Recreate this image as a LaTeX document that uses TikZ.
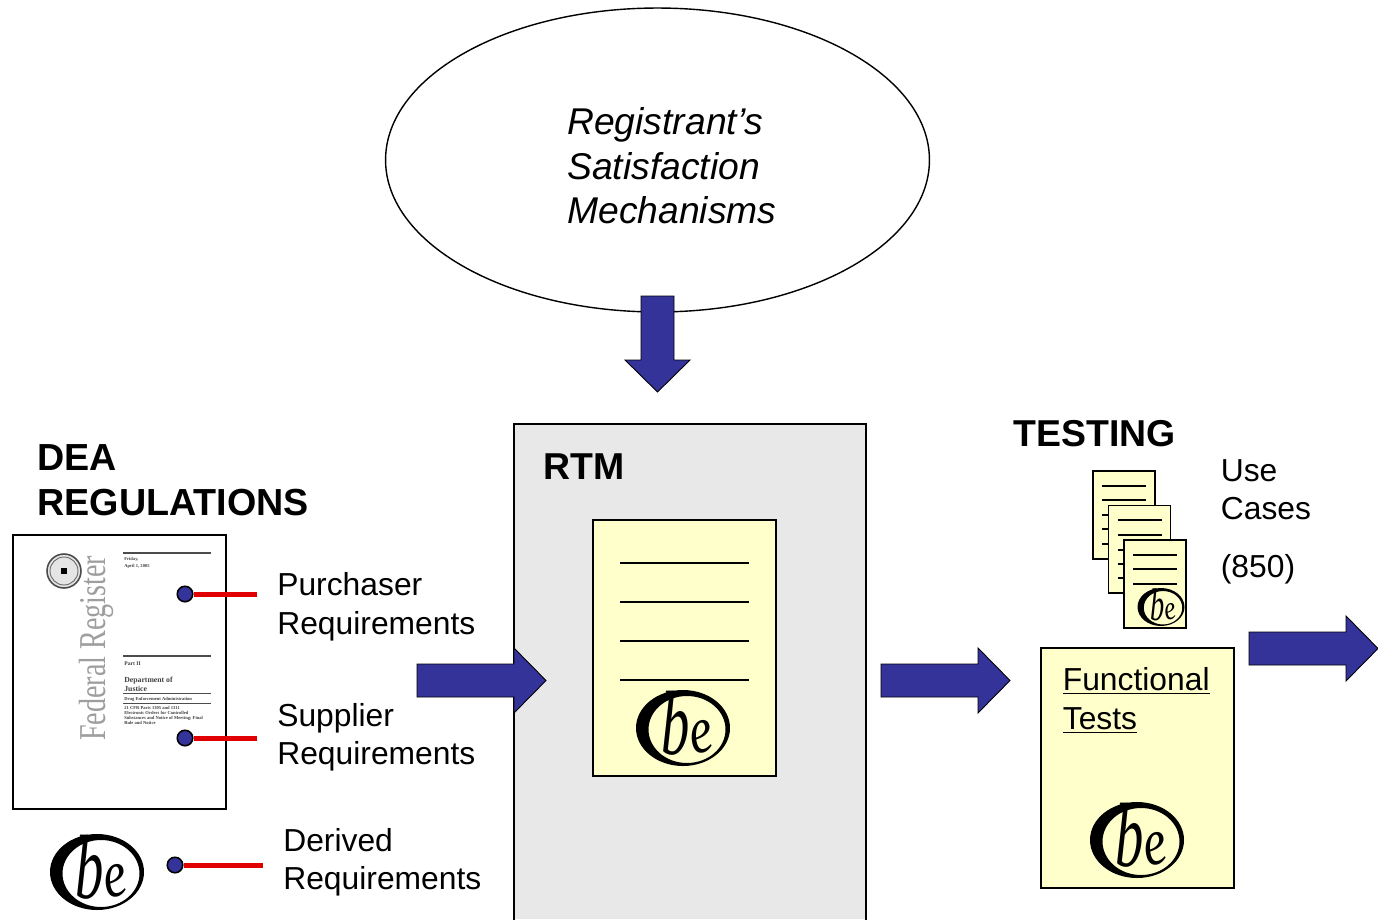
\documentclass[tikz,border=0pt]{standalone}
\usepackage{fontspec}
\usepackage{xcolor}
\usetikzlibrary{arrows.meta, positioning, shapes.geometric}
\setmainfont{Liberation Sans}
\newfontfamily\regfont{Liberation Serif}
\definecolor{arrowblue}{HTML}{333399}
\definecolor{noteyellow}{HTML}{FFFFCC}
\definecolor{boxgray}{HTML}{E8E8E8}
\definecolor{barred}{HTML}{E00000}
\tikzset{
  note/.style={draw=black, fill=noteyellow, line width=0.8pt},
  rule/.style={black, line width=0.7pt},
  label/.style={anchor=base west, inner sep=0pt, font=\fontsize{18.1}{18.1}\selectfont},
  title/.style={anchor=base west, inner sep=0pt, font=\fontsize{21.3}{21.3}\selectfont\bfseries},
  slant/.style={anchor=base west, inner sep=0pt, font=\fontsize{21.2}{21.2}\selectfont\itshape},
  tiny/.style={anchor=base west, inner sep=0pt, text=black!75, font=\regfont\fontsize{2.6}{2.6}\selectfont\bfseries},
  dot/.style={circle, draw=black, line width=0.9pt, fill=arrowblue, inner sep=0pt, minimum size=0.31cm},
  bar/.style={barred, line width=0.1cm},
  % tip at the origin, #1 is the length of the shaft
  pics/blockarrow/.style={code={
    \draw[black, line width=0.5pt, fill=arrowblue] (-32,-16.5) -- (-32-#1,-16.5) -- (-32-#1,16.5) -- (-32,16.5)
      -- (-32,32.5) -- (0,0) -- (-32,-32.5) -- cycle;
  }},
  belogo/.pic={
    \fill[black, even odd rule] (0,0) ellipse [x radius=47, y radius=38]
      (4,1.5) ellipse [x radius=38.5, y radius=33.5];
    \node[transform shape, inner sep=0pt, xscale=0.62, font=\regfont\fontsize{52}{52}\selectfont\itshape] (-b) at (-7,-5) {b};
    \node[transform shape, inner sep=0pt, rotate=12, xscale=0.78, font=\regfont\fontsize{38}{38}\selectfont\itshape] (-e) at (19,9) {e};
  }
}

\begin{document}
\begin{tikzpicture}[x=0.02cm, y=-0.02cm]
  \useasboundingbox (0,0) rectangle (1378,919);
  % Satisfaction mechanisms
  \node[ellipse, draw=black, line width=0.8pt, fill=white, minimum width=10.88cm, minimum height=6.08cm, inner sep=0pt] (mech) at (657.5,160) {};
  \node[slant] (mech1) at (567,134) {Registrant’s};
  \node[slant] (mech2) at (567,179) {Satisfaction};
  \node[slant] (mech3) at (567,223) {Mechanisms};
  \pic[rotate=-90] (arrowdown) at (657.5,392) {blockarrow=64};

  % RTM
  \fill[boxgray] (514,424) rectangle (866,919);
  \draw[line width=0.8pt] (514,925) -- (514,424) -- (866,424) -- (866,925);
  \node[title] (rtm) at (543,479) {RTM};
  \draw[note] (593,520) rectangle (776,776);
  \foreach \y in {563, 602, 641, 680}
    \draw[rule] (620,\y) -- (749,\y);
  \pic (logortm) at (683,728) {belogo};

  % DEA regulations
  \node[title, font=\fontsize{21.45}{21.45}\selectfont\bfseries] (dea1) at (37,470) {DEA};
  \node[title, font=\fontsize{21.45}{21.45}\selectfont\bfseries] (dea2) at (37,515) {REGULATIONS};
  \draw[black, fill=white, line width=0.9pt] (13,535) rectangle (226,809);
  \draw[black!70, fill=black!10, line width=0.9pt] (64,571) circle (17);
  \draw[black!60, line width=0.5pt] (64,571) circle (14);
  \fill[black] (61,568) rectangle (67,574);
  \node[rotate=90, xscale=0.74, anchor=base west, inner sep=0pt, text=black!38, font=\regfont\fontsize{21.6}{21.6}\selectfont] (fedreg) at (105,741) {Federal Register};
  \foreach \y in {553, 656}
    \draw[black!70, line width=0.7pt] (123,\y) -- (211,\y);
  \foreach \y in {693, 703}
    \draw[black!70, line width=0.35pt] (123,\y) -- (211,\y);
  \node[tiny] (fr1) at (124,560) {Friday,};
  \node[tiny] (fr2) at (124,567) {April 1, 2005};
  \node[tiny, font=\regfont\fontsize{3.2}{3.2}\selectfont\bfseries] (fr3) at (124,665) {Part II};
  \node[tiny, font=\regfont\fontsize{4.4}{4.4}\selectfont\bfseries] (fr4) at (124,682) {Department of};
  \node[tiny, font=\regfont\fontsize{4.4}{4.4}\selectfont\bfseries] (fr5) at (124,691) {Justice};
  \node[tiny] (fr6) at (124,700) {Drug Enforcement Administration};
  \node[tiny] (fr7) at (124,709) {21 CFR Parts 1305 and 1311};
  \node[tiny] (fr8) at (124,714) {Electronic Orders for Controlled};
  \node[tiny] (fr9) at (124,719) {Substances and Notice of Meeting; Final};
  \node[tiny] (fr10) at (124,724) {Rule and Notice};

  % requirements
  \node[dot] (dotpurch) at (185,594) {};
  \coordinate (endpurch) at (257,594);
  \draw[bar] (dotpurch.east) -- (endpurch);
  \node[label] (purch1) at (277,595) {Purchaser};
  \node[label] (purch2) at (277,634) {Requirements};
  \node[dot] (dotsupp) at (185,738) {};
  \coordinate (endsupp) at (257,738);
  \draw[bar] (dotsupp.east) -- (endsupp);
  \node[label] (supp1) at (277,726) {Supplier};
  \node[label] (supp2) at (277,764) {Requirements};
  \pic (logoder) at (97,872) {belogo};
  \node[dot] (dotder) at (175,865) {};
  \coordinate (endder) at (263,865);
  \draw[bar] (dotder.east) -- (endder);
  \node[label] (der1) at (283,851) {Derived};
  \node[label] (der2) at (283,889) {Requirements};

  % block arrows
  \pic (arrowa) at (546,680.5) {blockarrow=97};
  \pic (arrowb) at (1010,680.5) {blockarrow=97};
  \pic (arrowc) at (1378,648.5) {blockarrow=97};

  % Testing
  \node[title] (testing) at (1013,446) {TESTING};
  \draw[note] (1093,471) rectangle (1155,559);
  \foreach \y in {486, 500, 515, 529, 544}
    \draw[rule] (1102,\y) -- (1146,\y);
  \draw[note] (1108.5,505.5) rectangle (1170.5,593);
  \foreach \y in {520, 535, 550, 564, 578}
    \draw[rule] (1117.5,\y) -- (1161.5,\y);
  \draw[note] (1124,540) rectangle (1186,628);
  \foreach \y in {555, 569, 584}
    \draw[rule] (1133,\y) -- (1177,\y);
  \pic[scale=0.5] (logouse) at (1161,607) {belogo};
  \node[label] (use1) at (1220.5,481) {Use};
  \node[label] (use2) at (1220.5,519) {Cases};
  \node[label] (use3) at (1220.5,577) {(850)};
  \draw[note] (1041,648) rectangle (1234,888);
  \node[label] (func1) at (1062.5,690.5) {\underline{Functional}};
  \node[label] (func2) at (1062.5,729.5) {\underline{Tests}};
  \pic (logofunc) at (1137,840) {belogo};
\end{tikzpicture}
\end{document}
